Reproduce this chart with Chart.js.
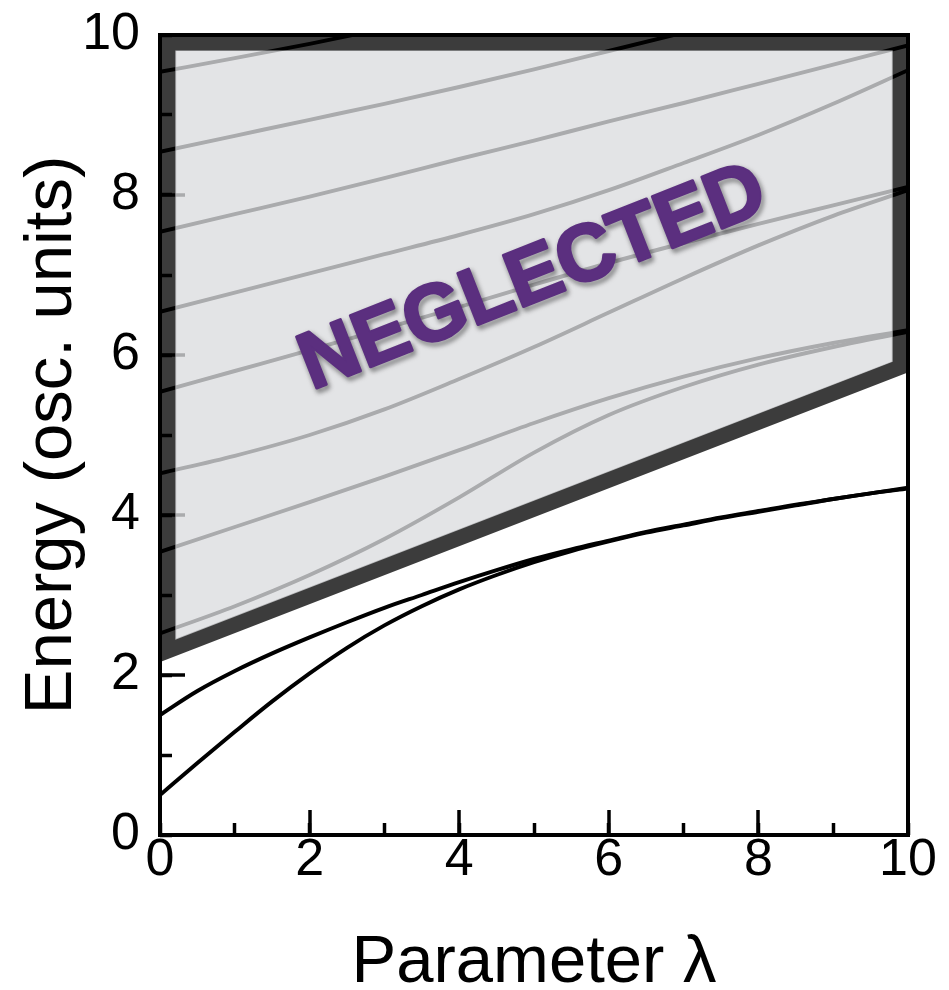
<!DOCTYPE html>
<html>
<head>
<meta charset="utf-8">
<title>Energy levels vs parameter lambda</title>
<script src="https://cdn.jsdelivr.net/npm/chart.js@4.4.1/dist/chart.umd.min.js"></script>
<style>
  html, body { margin: 0; padding: 0; background: #ffffff; }
  #chart { display: block; }
</style>
</head>
<body>
<canvas id="chart" width="949" height="990"></canvas>
<script>
// lambda grids
const lambdaFine = [0, 0.5, 1, 1.5, 2, 2.5, 3, 3.5, 4, 4.5, 5, 5.5, 6, 6.5, 7, 7.5, 8, 8.5, 9, 9.5, 10];
const lambdaCoarse = [0, 1, 2, 3, 4, 5, 6, 7, 8, 9, 10];

// the two kept (lowest) levels
const levelGround = [0.5, 0.9, 1.29, 1.67, 2.02, 2.34, 2.62, 2.86, 3.07, 3.25, 3.41, 3.55, 3.67, 3.78, 3.87, 3.96, 4.04, 4.12, 4.2, 4.27, 4.33];
const levelFirst = [1.5, 1.8, 2.05, 2.27, 2.47, 2.66, 2.84, 3.0, 3.16, 3.31, 3.45, 3.57, 3.68, 3.79, 3.88, 3.97, 4.05, 4.13, 4.2, 4.27, 4.34];

// higher (neglected) levels, on lambdaCoarse
const level2 = [2.52, 2.86, 3.25, 3.7, 4.22, 4.78, 5.25, 5.6, 5.88, 6.1, 6.29];
const level3 = [3.54, 3.85, 4.16, 4.48, 4.81, 5.15, 5.46, 5.73, 5.96, 6.15, 6.31];
const level4 = [4.52, 4.74, 5.0, 5.32, 5.7, 6.1, 6.53, 6.96, 7.37, 7.74, 8.06];
const level5 = [5.54, 5.8, 6.06, 6.33, 6.6, 6.88, 7.15, 7.4, 7.64, 7.87, 8.1];
const level6 = [6.54, 6.78, 7.02, 7.26, 7.5, 7.76, 8.06, 8.4, 8.75, 9.14, 9.56];
const level7 = [7.54, 7.76, 7.98, 8.21, 8.45, 8.68, 8.92, 9.15, 9.39, 9.63, 9.87];
const level8 = [8.54, 8.74, 8.94, 9.14, 9.35, 9.57, 9.8, 10.03];
const level9 = [9.54, 9.71, 9.89, 10.08];

// neglected region: outline (centre of the dark band) and its inner fill
const regionLambda = [5, 9.89, 9.89, 0.11, 0.11, 5];
const regionEnergy = [9.9, 9.9, 5.85, 2.31, 9.9, 9.9];
const innerLambda = [0.205, 9.795, 9.795, 0.205];
const innerEnergy = [9.805, 9.805, 5.915, 2.44];

const labelText = "NEGLECTED";
const labelLambda = 4.99;
const labelEnergy = 6.95;

const xTitle = "Parameter \u03bb";
const yTitle = "Energy (osc. units)";

const FONT = '"Liberation Sans", Arial, Helvetica, sans-serif';

function points(xs, ys) {
    return ys.map((v, i) => ({x: xs[i], y: v}));
}

function levelSet(xs, ys) {
    return {
        data: points(xs, ys),
        borderColor: "#000000",
        borderWidth: 3.9,
        pointRadius: 0,
        cubicInterpolationMode: "monotone",
        fill: false,
        clip: 0,
    };
}

const neglectedLabel = {
    id: "neglectedLabel",
    afterDatasetsDraw(chart) {
        const {ctx, scales} = chart;
        const px = scales.x.getPixelForValue(labelLambda);
        const py = scales.y.getPixelForValue(labelEnergy);
        ctx.save();
        ctx.translate(px, py);
        ctx.rotate(-21.5 * Math.PI / 180);
        ctx.font = "bold 80px " + FONT;
        ctx.textAlign = "center";
        ctx.textBaseline = "middle";
        ctx.lineJoin = "round";
        ctx.lineWidth = 3;
        ctx.shadowColor = "rgba(0,0,0,0.65)";
        ctx.shadowBlur = 5;
        ctx.shadowOffsetX = 2;
        ctx.shadowOffsetY = 3;
        ctx.fillStyle = "#5b2f7f";
        ctx.strokeStyle = "#5b2f7f";
        ctx.strokeText(labelText, 0, 0);
        ctx.shadowColor = "transparent";
        ctx.fillText(labelText, 0, 0);
        ctx.restore();
    }
};

const datasets = [
    // light overlay on top of the levels
    {
        data: points(innerLambda, innerEnergy),
        borderWidth: 0,
        pointRadius: 0,
        backgroundColor: "rgba(219,220,223,0.776)",
        fill: "shape",
        tension: 0,
        clip: 0,
    },
    levelSet(lambdaFine, levelGround),
    levelSet(lambdaFine, levelFirst),
    levelSet(lambdaCoarse, level2),
    levelSet(lambdaCoarse, level3),
    levelSet(lambdaCoarse, level4),
    levelSet(lambdaCoarse, level5),
    levelSet(lambdaCoarse, level6),
    levelSet(lambdaCoarse, level7),
    levelSet(lambdaCoarse.slice(0, level8.length), level8),
    levelSet(lambdaCoarse.slice(0, level9.length), level9),
    // dark outline, under the levels
    {
        data: points(regionLambda, regionEnergy),
        borderColor: "rgba(0,0,0,0.765)",
        borderWidth: 16,
        borderJoinStyle: "miter",
        pointRadius: 0,
        fill: false,
        tension: 0,
        clip: 0,
    },
];

datasets.forEach(d => { d.xAxisID = "x"; d.yAxisID = "y"; });

const tickFont = {family: FONT, size: 52};
const titleFont = {family: FONT, size: 67, lineHeight: 0.8};

new Chart(document.getElementById("chart"), {
    type: "line",
    data: {datasets: datasets},
    options: {
        responsive: false,
        animation: false,
        events: [],
        layout: {padding: {left: 0, right: 41, top: 35, bottom: 0}},
        plugins: {
            legend: {display: false},
            tooltip: {enabled: false},
        },
        scales: {
            x: {
                type: "linear",
                position: "bottom",
                min: 0,
                max: 10,
                ticks: {stepSize: 2, color: "#000", font: tickFont, padding: 19, maxRotation: 0},
                grid: {drawOnChartArea: false, drawTicks: true, tickLength: -25, tickWidth: 3.5, tickColor: "#000", lineWidth: 4},
                border: {display: true, color: "#000", width: 4},
                title: {display: true, text: xTitle, color: "#000", font: titleFont, padding: {top: 0, bottom: 0}},
                afterFit: (scale) => {
                    scale.height = 155;
                    scale.paddingLeft = 0;
                    scale.paddingRight = 0;
                },
            },
            y: {
                type: "linear",
                position: "left",
                min: 0,
                max: 10,
                ticks: {stepSize: 2, color: "#000", font: tickFont, padding: 45},
                grid: {drawOnChartArea: false, drawTicks: true, tickLength: -25, tickWidth: 3.5, tickColor: "#000", lineWidth: 4},
                border: {display: true, color: "#000", width: 4},
                title: {display: true, text: yTitle, color: "#000", font: titleFont, padding: {top: 26, bottom: 0}},
                afterFit: (scale) => {
                    scale.width = 160;
                    scale.paddingTop = 0;
                    scale.paddingBottom = 0;
                },
            },
            xMinor: {
                type: "linear",
                axis: "x",
                position: {y: 0},
                min: 0,
                max: 10,
                ticks: {stepSize: 1, display: false},
                grid: {drawOnChartArea: false, drawTicks: true, tickLength: -12, tickWidth: 3.5, tickColor: "#000"},
                border: {display: false},
            },
            yMinor: {
                type: "linear",
                axis: "y",
                position: {x: 0},
                min: 0,
                max: 10,
                ticks: {stepSize: 1, display: false},
                grid: {drawOnChartArea: false, drawTicks: true, tickLength: -12, tickWidth: 3.5, tickColor: "#000"},
                border: {display: false},
            },
            x2: {
                type: "linear",
                axis: "x",
                position: "top",
                min: 0,
                max: 10,
                ticks: {display: false},
                grid: {drawOnChartArea: false, drawTicks: false, lineWidth: 4},
                border: {display: true, color: "#000", width: 4},
                afterFit: (scale) => { scale.height = 0; },
            },
            y2: {
                type: "linear",
                axis: "y",
                position: "right",
                min: 0,
                max: 10,
                ticks: {display: false},
                grid: {drawOnChartArea: false, drawTicks: false, lineWidth: 4},
                border: {display: true, color: "#000", width: 4},
                afterFit: (scale) => { scale.width = 0; },
            },
        },
    },
    plugins: [neglectedLabel],
});
</script>
</body>
</html>
